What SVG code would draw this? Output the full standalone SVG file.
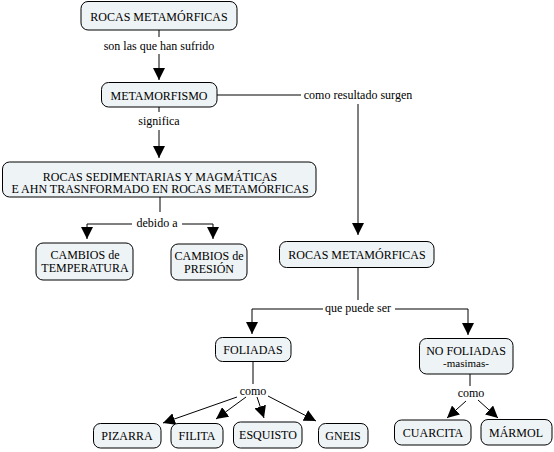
<svg xmlns="http://www.w3.org/2000/svg" width="554" height="452" viewBox="0 0 554 452">
<style>
.n rect{fill:#eef3f5;stroke:#000;stroke-width:1}
.t{font-size:12px;text-anchor:middle}
.l{font-size:12px;text-anchor:middle}
.s{font-size:11px;text-anchor:middle}
.c line,.c path{stroke:#000;stroke-width:1;fill:none}
</style>
<defs>
<marker id="a" markerUnits="userSpaceOnUse" markerWidth="12" markerHeight="12" viewBox="0 0 12 12" refX="12" refY="6" orient="auto">
<path d="M0,0 L12,6 L0,12 Z" fill="#000"/>
</marker>
</defs>
<rect width="554" height="452" fill="#fff"/>
<g class="c">
<line x1="159" y1="30" x2="159" y2="37"/>
<line x1="159" y1="54" x2="159" y2="80" marker-end="url(#a)"/>
<line x1="159" y1="107" x2="159" y2="112"/>
<line x1="159" y1="130" x2="159" y2="158" marker-end="url(#a)"/>
<line x1="217" y1="95" x2="301" y2="95"/>
<path d="M358,104 L358,235" marker-end="url(#a)"/>
<line x1="160" y1="197" x2="160" y2="212"/>
<path d="M132,224 L87,224 L87,239" marker-end="url(#a)"/>
<path d="M182,224 L213,224 L213,239" marker-end="url(#a)"/>
<line x1="358" y1="267" x2="358" y2="300"/>
<path d="M323,309 L252,309 L252,334" marker-end="url(#a)"/>
<path d="M395,309 L468,309 L468,335" marker-end="url(#a)"/>
<line x1="253" y1="361" x2="253" y2="384"/>
<line x1="237" y1="397" x2="163" y2="423" marker-end="url(#a)"/>
<line x1="246" y1="397" x2="216" y2="419" marker-end="url(#a)"/>
<line x1="257" y1="397" x2="264" y2="418" marker-end="url(#a)"/>
<line x1="268" y1="396" x2="316" y2="421" marker-end="url(#a)"/>
<line x1="470" y1="374" x2="470" y2="386"/>
<line x1="466" y1="401" x2="447" y2="418" marker-end="url(#a)"/>
<line x1="478" y1="400" x2="498" y2="418" marker-end="url(#a)"/>
</g>
<g font-family="Liberation Serif, serif" fill="#000">
<g class="lbl">
<text class="l" x="159" y="50">son las que han sufrido</text>
<text class="l" x="159" y="125">significa</text>
<text class="l" x="358" y="99">como resultado surgen</text>
<text class="l" x="157" y="227">debido a</text>
<text class="l" x="358" y="312">que puede ser</text>
<text class="l" x="253" y="395">como</text>
<text class="l" x="471" y="397">como</text>
</g>
<g id="n1" class="n"><rect x="81" y="1.5" width="156" height="28.5" rx="7"/><text class="t" x="159" y="21">ROCAS METAMÓRFICAS</text></g>
<g id="n2" class="n"><rect x="101.5" y="82.5" width="115.5" height="24.5" rx="7"/><text class="t" x="159" y="100">METAMORFISMO</text></g>
<g id="n3" class="n"><rect x="2.5" y="162" width="313.5" height="35" rx="7"/><text class="t" x="160" y="180.5">ROCAS SEDIMENTARIAS Y MAGMÁTICAS</text><text class="t" x="160" y="193">E AHN TRASNFORMADO EN ROCAS METAMÓRFICAS</text></g>
<g id="n4" class="n"><rect x="36" y="243" width="97" height="37" rx="7"/><text class="t" x="85" y="258.5">CAMBIOS de</text><text class="t" x="85" y="272">TEMPERATURA</text></g>
<g id="n5" class="n"><rect x="171" y="244" width="76" height="36" rx="7"/><text class="t" x="209" y="259.5">CAMBIOS de</text><text class="t" x="209" y="273">PRESIÓN</text></g>
<g id="n6" class="n"><rect x="279.5" y="241.5" width="154.5" height="26" rx="7"/><text class="t" x="357" y="259">ROCAS METAMÓRFICAS</text></g>
<g id="n7" class="n"><rect x="215.5" y="337.5" width="75.5" height="24" rx="7"/><text class="t" x="253" y="354">FOLIADAS</text></g>
<g id="n8" class="n"><rect x="419.5" y="338.5" width="93.5" height="35.5" rx="7"/><text class="t" x="466" y="354.5">NO FOLIADAS</text><text class="s" x="466" y="367">-masimas-</text></g>
<g id="n9" class="n"><rect x="93.5" y="423.5" width="67.5" height="24.5" rx="7"/><text class="t" x="127" y="440">PIZARRA</text></g>
<g id="n10" class="n"><rect x="171" y="423.5" width="52" height="24.5" rx="7"/><text class="t" x="197" y="440">FILITA</text></g>
<g id="n11" class="n"><rect x="233.5" y="422" width="68.5" height="26" rx="7"/><text class="t" x="268" y="439">ESQUISTO</text></g>
<g id="n12" class="n"><rect x="318.5" y="423.5" width="49.5" height="24.5" rx="7"/><text class="t" x="343" y="440">GNEIS</text></g>
<g id="n13" class="n"><rect x="394.5" y="420" width="76.5" height="25" rx="7"/><text class="t" x="433" y="437">CUARCITA</text></g>
<g id="n14" class="n"><rect x="481" y="419.5" width="71" height="25.5" rx="7"/><text class="t" x="516" y="437">MÁRMOL</text></g>
</g>
</svg>
